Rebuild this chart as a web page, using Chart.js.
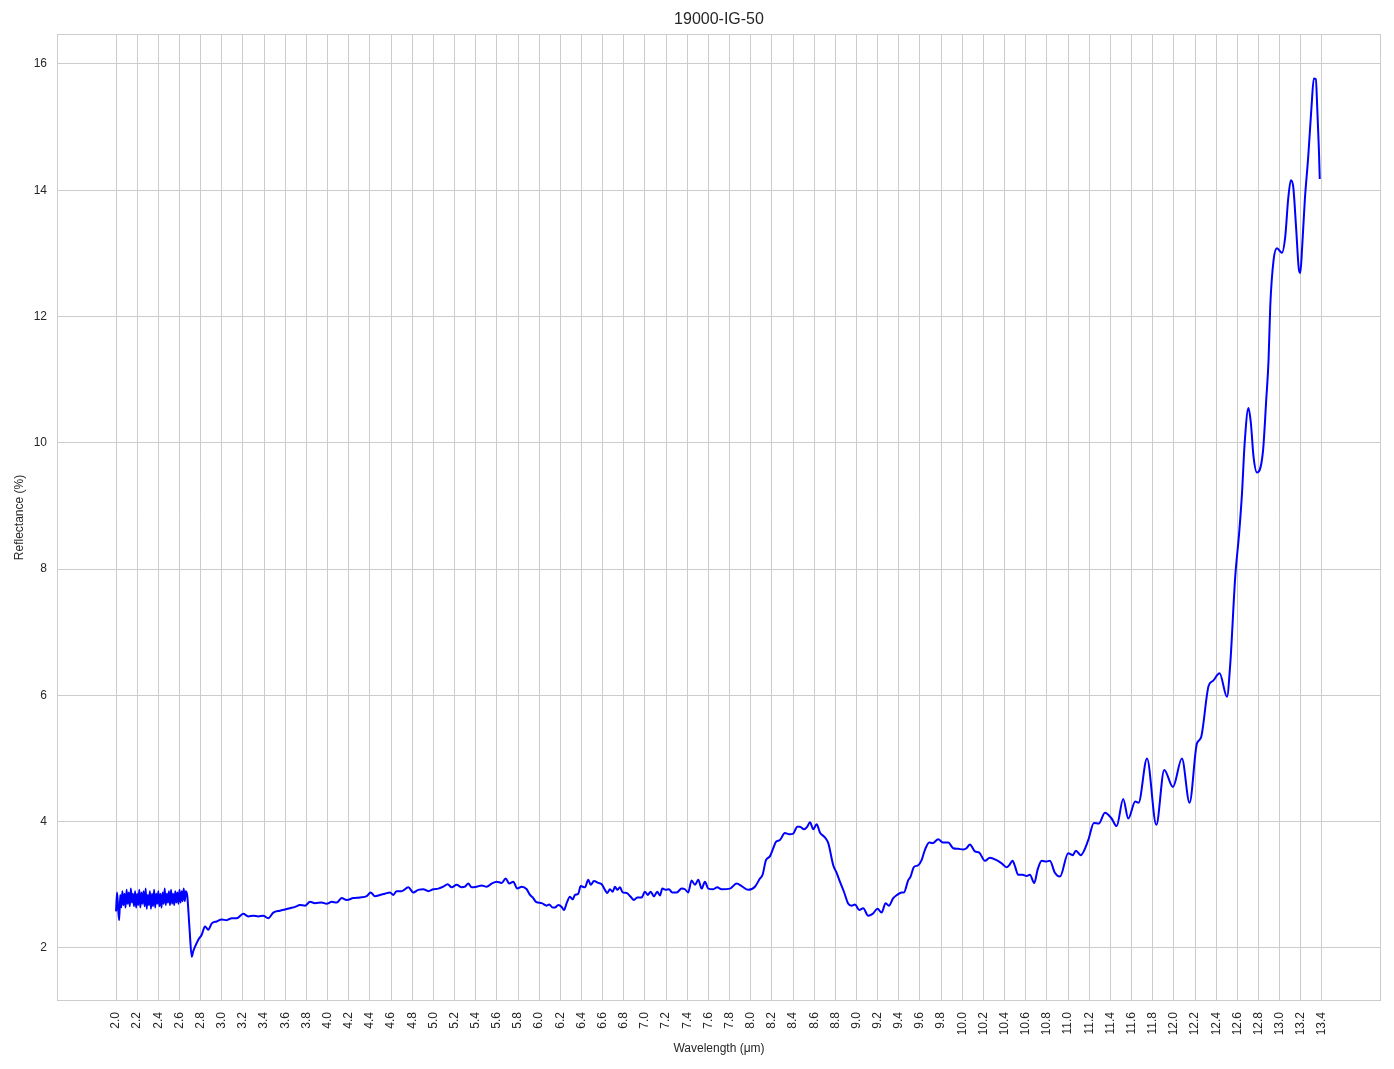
<!DOCTYPE html>
<html>
<head>
<meta charset="utf-8">
<title>19000-IG-50</title>
<script src="https://cdn.jsdelivr.net/npm/chart.js@4/dist/chart.umd.min.js"></script>
<style>
  html, body { margin: 0; padding: 0; background: #ffffff; }
  canvas { display: block; }
</style>
</head>
<body>
<canvas id="spectrumChart" width="1394" height="1069"></canvas>
<script>
// spectrum
const chartTitle = '19000-IG-50';

const wavelength = [
  2.00, 2.01, 2.02, 2.03, 2.04, 2.05, 2.06, 2.07, 2.08, 2.09,
  2.10, 2.11, 2.12, 2.13, 2.14, 2.15, 2.16, 2.17, 2.18, 2.19,
  2.20, 2.21, 2.22, 2.23, 2.24, 2.25, 2.26, 2.27, 2.28, 2.29,
  2.30, 2.31, 2.32, 2.33, 2.34, 2.35, 2.36, 2.37, 2.38, 2.39,
  2.40, 2.41, 2.42, 2.43, 2.44, 2.45, 2.46, 2.47, 2.48, 2.49,
  2.50, 2.51, 2.52, 2.53, 2.54, 2.55, 2.56, 2.57, 2.58, 2.59,
  2.60, 2.61, 2.62, 2.63, 2.64, 2.65, 2.66, 2.67,
  2.675, 2.695, 2.716, 2.73,
  2.747, 2.778, 2.810, 2.841, 2.872, 2.905, 2.952, 2.999, 3.046, 3.094,
  3.141, 3.203, 3.250, 3.298, 3.345, 3.392, 3.439, 3.487, 3.550, 3.597,
  3.645, 3.692, 3.739, 3.786, 3.834, 3.881, 3.944, 3.991, 4.039, 4.086,
  4.133, 4.181, 4.243, 4.306, 4.370, 4.407, 4.448, 4.495, 4.543, 4.590,
  4.621, 4.653, 4.700, 4.763, 4.810, 4.857, 4.905, 4.952, 4.999, 5.046,
  5.094, 5.135, 5.173, 5.220, 5.268, 5.299, 5.330, 5.362, 5.409, 5.457,
  5.504, 5.551, 5.598, 5.646, 5.683, 5.717, 5.755, 5.793, 5.835, 5.882,
  5.913, 5.939, 5.970, 6.024, 6.071, 6.095, 6.128, 6.149, 6.181, 6.213,
  6.234, 6.260, 6.291, 6.317, 6.338, 6.370, 6.392, 6.433, 6.464, 6.487,
  6.518, 6.559, 6.591, 6.622, 6.644, 6.669, 6.695, 6.716, 6.738, 6.764,
  6.789, 6.827, 6.865, 6.896, 6.927, 6.969, 7.000, 7.026, 7.054, 7.085,
  7.116, 7.142, 7.164, 7.196, 7.227, 7.258, 7.300, 7.347, 7.378, 7.409,
  7.441, 7.473, 7.504, 7.536, 7.567, 7.598, 7.646, 7.683, 7.725, 7.803,
  7.867, 7.914, 7.976, 8.040, 8.087, 8.112, 8.144, 8.181, 8.213, 8.238,
  8.276, 8.323, 8.364, 8.402, 8.440, 8.465, 8.503, 8.534, 8.560, 8.591,
  8.623, 8.654, 8.701, 8.733, 8.780, 8.812, 8.843, 8.881, 8.922, 8.954,
  8.985, 9.026, 9.063, 9.111, 9.152, 9.199, 9.237, 9.275, 9.306, 9.347,
  9.384, 9.426, 9.448, 9.488, 9.511, 9.542, 9.583, 9.615, 9.646, 9.687,
  9.719, 9.772, 9.819, 9.867, 9.914, 9.961, 10.008, 10.040, 10.072, 10.119,
  10.160, 10.214, 10.261, 10.324, 10.372, 10.419, 10.443, 10.475, 10.497, 10.528,
  10.570, 10.608, 10.639, 10.680, 10.712, 10.750, 10.797, 10.828, 10.875, 10.923,
  11.001, 11.043, 11.074, 11.119, 11.191, 11.244, 11.291, 11.348, 11.411, 11.459,
  11.521, 11.569, 11.635, 11.666, 11.746, 11.834, 11.909, 11.991, 12.076, 12.148,
  12.218, 12.256, 12.328, 12.370, 12.432, 12.502, 12.533, 12.580, 12.617, 12.644,
  12.669, 12.705, 12.728, 12.753, 12.785, 12.842, 12.873, 12.895, 12.911, 12.943,
  12.975, 13.022, 13.053, 13.080, 13.106, 13.128, 13.155, 13.180, 13.195, 13.213,
  13.238, 13.270, 13.301, 13.323, 13.342, 13.355, 13.371, 13.379
];

const reflectance = [
  2.58, 2.88, 2.62, 2.44, 2.84, 2.64, 2.90, 2.68, 2.86, 2.64,
  2.92, 2.70, 2.88, 2.66, 2.94, 2.72, 2.86, 2.66, 2.90, 2.64,
  2.86, 2.68, 2.92, 2.64, 2.88, 2.70, 2.90, 2.66, 2.94, 2.62,
  2.84, 2.68, 2.90, 2.62, 2.86, 2.66, 2.92, 2.64, 2.86, 2.70,
  2.90, 2.66, 2.86, 2.64, 2.88, 2.70, 2.94, 2.68, 2.86, 2.72,
  2.90, 2.68, 2.92, 2.70, 2.86, 2.68, 2.90, 2.72, 2.88, 2.70,
  2.92, 2.72, 2.90, 2.74, 2.94, 2.74, 2.90, 2.86,
  2.80, 2.30, 1.86, 1.95,
  2.02, 2.13, 2.21, 2.34, 2.29, 2.39, 2.42, 2.45, 2.44, 2.47,
  2.47, 2.54, 2.50, 2.51, 2.50, 2.51, 2.47, 2.56, 2.59, 2.61,
  2.63, 2.65, 2.68, 2.67, 2.73, 2.71, 2.72, 2.70, 2.73, 2.72,
  2.79, 2.76, 2.79, 2.80, 2.82, 2.88, 2.82, 2.84, 2.86, 2.88,
  2.84, 2.90, 2.90, 2.96, 2.88, 2.92, 2.93, 2.90, 2.93, 2.94,
  2.97, 3.01, 2.96, 3.00, 2.96, 2.97, 3.02, 2.96, 2.97, 2.99,
  2.97, 3.02, 3.05, 3.03, 3.10, 3.02, 3.05, 2.94, 2.97, 2.93,
  2.84, 2.80, 2.73, 2.71, 2.67, 2.69, 2.64, 2.64, 2.68, 2.65,
  2.60, 2.71, 2.81, 2.77, 2.84, 2.86, 2.98, 2.96, 3.08, 3.00,
  3.06, 3.03, 3.01, 2.92, 2.87, 2.93, 2.89, 2.97, 2.92, 2.96,
  2.88, 2.87, 2.81, 2.76, 2.80, 2.80, 2.89, 2.84, 2.89, 2.82,
  2.89, 2.83, 2.94, 2.92, 2.93, 2.88, 2.88, 2.94, 2.93, 2.88,
  3.07, 3.00, 3.08, 2.94, 3.05, 2.94, 2.93, 2.96, 2.93, 2.94,
  3.02, 2.98, 2.92, 2.97, 3.10, 3.16, 3.39, 3.45, 3.58, 3.68,
  3.71, 3.82, 3.80, 3.81, 3.92, 3.92, 3.88, 3.92, 3.99, 3.88,
  3.96, 3.83, 3.75, 3.66, 3.31, 3.19, 3.05, 2.89, 2.70, 2.67,
  2.69, 2.60, 2.63, 2.51, 2.54, 2.62, 2.56, 2.71, 2.67, 2.79,
  2.84, 2.88, 2.88, 3.07, 3.13, 3.28, 3.31, 3.39, 3.55, 3.67,
  3.66, 3.72, 3.67, 3.67, 3.58, 3.57, 3.56, 3.58, 3.64, 3.53,
  3.51, 3.38, 3.43, 3.39, 3.34, 3.28, 3.31, 3.38, 3.30, 3.16,
  3.16, 3.14, 3.16, 3.03, 3.24, 3.38, 3.37, 3.38, 3.19, 3.13,
  3.50, 3.47, 3.54, 3.47, 3.71, 3.98, 3.97, 4.14, 4.05, 3.93,
  4.36, 4.05, 4.32, 4.30, 5.00, 3.95, 4.82, 4.55, 5.00, 4.30,
  5.24, 5.33, 6.15, 6.23, 6.35, 5.98, 6.50, 7.88, 8.57, 9.20,
  9.99, 10.55, 10.31, 9.78, 9.53, 9.86, 10.68, 11.31, 12.16, 12.90,
  13.08, 13.01, 13.27, 13.85, 14.16, 14.06, 13.42, 12.77, 12.69, 13.11,
  13.85, 14.53, 15.32, 15.77, 15.76, 15.32, 14.64, 14.18
];

const xTicks = [
  2.0, 2.2, 2.4, 2.6, 2.8, 3.0, 3.2, 3.4, 3.6, 3.8,
  4.0, 4.2, 4.4, 4.6, 4.8, 5.0, 5.2, 5.4, 5.6, 5.8,
  6.0, 6.2, 6.4, 6.6, 6.8, 7.0, 7.2, 7.4, 7.6, 7.8,
  8.0, 8.2, 8.4, 8.6, 8.8, 9.0, 9.2, 9.4, 9.6, 9.8,
  10.0, 10.2, 10.4, 10.6, 10.8, 11.0, 11.2, 11.4, 11.6, 11.8,
  12.0, 12.2, 12.4, 12.6, 12.8, 13.0, 13.2, 13.4
];
const yTicks = [2, 4, 6, 8, 10, 12, 14, 16];

const textColor = '#262626';
const gridColor = '#cccccc';
const fontFamily = '"Liberation Sans", Arial, sans-serif';

// light grey frame round the plot area + title centred over the axes
const frameBox = {
  id: 'frameBox',
  beforeDatasetsDraw(chart) {
    const { ctx, chartArea: a } = chart;
    ctx.save();
    ctx.strokeStyle = gridColor;
    ctx.lineWidth = 1;
    ctx.strokeRect(a.left + 0.5, a.top + 0.5, a.right - a.left - 1, a.bottom - a.top - 1);
    ctx.restore();
  },
  afterDraw(chart) {
    const { ctx, chartArea: a } = chart;
    ctx.save();
    ctx.fillStyle = textColor;
    ctx.font = '16px ' + fontFamily;
    ctx.textAlign = 'center';
    ctx.textBaseline = 'middle';
    ctx.fillText(chartTitle, (a.left + a.right) / 2, 20);
    ctx.restore();
  }
};

const points = wavelength.map((w, i) => ({ x: w, y: reflectance[i] }));

const ctx = document.getElementById('spectrumChart').getContext('2d');
new Chart(ctx, {
  type: 'line',
  data: {
    datasets: [{
      label: chartTitle,
      data: points,
      borderColor: '#0000ff',
      borderWidth: 2,
      pointRadius: 0,
      fill: false,
      cubicInterpolationMode: 'monotone'
    }]
  },
  options: {
    responsive: false,
    animation: false,
    layout: { padding: { left: 0, right: 13, top: 34, bottom: 0 } },
    plugins: {
      legend: { display: false },
      tooltip: { enabled: false },
      title: { display: false }
    },
    scales: {
      x: {
        type: 'linear',
        min: 1.442,
        max: 13.958,
        afterBuildTicks(scale) { scale.ticks = xTicks.map(v => ({ value: v })); },
        afterFit(scale) { scale.height = 68; },
        ticks: {
          color: textColor,
          font: { family: fontFamily, size: 12 },
          padding: 11,
          minRotation: 90,
          maxRotation: 90,
          autoSkip: false,
          callback: v => Number(v).toFixed(1)
        },
        grid: { color: gridColor, lineWidth: 1, drawTicks: false },
        border: { display: false },
        title: {
          display: true,
          text: 'Wavelength (μm)',
          color: textColor,
          font: { family: fontFamily, size: 12 },
          padding: { top: 4, bottom: 13 }
        }
      },
      y: {
        type: 'linear',
        min: 1.16,
        max: 16.475,
        afterBuildTicks(scale) { scale.ticks = yTicks.map(v => ({ value: v })); },
        afterFit(scale) { scale.width = 57; },
        ticks: {
          color: textColor,
          font: { family: fontFamily, size: 12 },
          padding: 10,
          callback: v => String(v)
        },
        grid: { color: gridColor, lineWidth: 1, drawTicks: false },
        border: { display: false },
        title: {
          display: true,
          text: 'Reflectance (%)',
          color: textColor,
          font: { family: fontFamily, size: 12 },
          padding: { top: 12, bottom: 4 }
        }
      }
    }
  },
  plugins: [frameBox]
});
</script>
</body>
</html>
